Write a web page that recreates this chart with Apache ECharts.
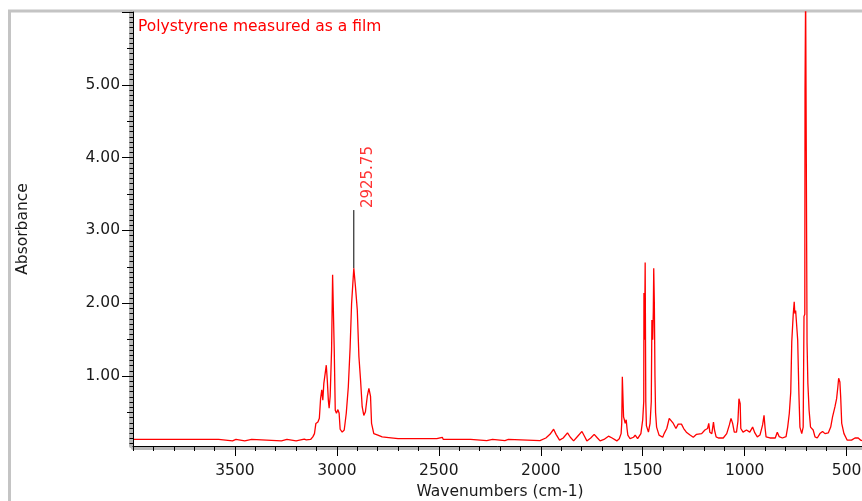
<!DOCTYPE html>
<html>
<head>
<meta charset="utf-8">
<script src="https://cdn.jsdelivr.net/npm/echarts@6/dist/echarts.min.js"></script>
<style>
  html, body { margin: 0; padding: 0; background: #fff; }
  #chart { width: 862px; height: 501px; }
</style>
</head>
<body>
<div id="chart"></div>
<script>
// spectrum (wavenumber cm-1, absorbance)
const wavenumbers = [
  4000, 3580, 3575, 3512, 3508, 3495, 3490, 3452, 3448, 3418, 3414, 3272, 3268, 3245, 3241, 3200,
  3196, 3160, 3150, 3129, 3118, 3110, 3103, 3093, 3086, 3080, 3074, 3069, 3064, 3060, 3052, 3047,
  3042, 3038, 3033, 3026, 3021, 3015, 3013, 3008, 3002, 2995, 2989, 2984, 2974, 2964, 2954, 2944,
  2935, 2928, 2922, 2917, 2909, 2900, 2892, 2884, 2876, 2868, 2860, 2851, 2843, 2835, 2830, 2819,
  2799, 2778, 2746, 2700, 2510, 2505, 2483, 2478, 2344, 2340, 2265, 2262, 2237, 2234, 2176, 2174,
  2159, 2156, 2004, 1998, 1975, 1955, 1937, 1925, 1908, 1890, 1869, 1855, 1839, 1820, 1798, 1785,
  1774, 1755, 1738, 1722, 1709, 1690, 1668, 1650, 1627, 1615, 1606, 1603, 1600, 1596, 1594, 1590,
  1586, 1581, 1577, 1573, 1562, 1545, 1537, 1525, 1509, 1500, 1495, 1494, 1491, 1488, 1485, 1482,
  1472, 1464, 1458, 1455, 1451, 1448, 1446, 1443, 1440, 1437, 1432, 1420, 1402, 1395, 1382, 1370,
  1362, 1350, 1337, 1326, 1310, 1299, 1286, 1268, 1252, 1236, 1211, 1195, 1182, 1176, 1171, 1161,
  1153, 1148, 1140, 1129, 1105, 1088, 1075, 1067, 1059, 1051, 1040, 1033, 1028, 1022, 1019, 1008,
  991, 975, 961, 950, 938, 925, 912, 905, 900, 895, 876, 850, 840, 831, 815, 797,
  789, 781, 774, 769, 762, 757, 754, 750, 745, 740, 734, 729, 720, 713, 709, 705,
  704, 701, 697, 694, 690, 684, 677, 664, 655, 644, 631, 618, 606, 590, 578, 569,
  557, 549, 543, 539, 536, 533, 529, 524, 513, 497, 476, 459, 443, 431, 420, 400
];
const absorbance = [
  0.13, 0.13, 0.11, 0.11, 0.13, 0.13, 0.11, 0.11, 0.13, 0.13, 0.11, 0.11, 0.13, 0.13, 0.11, 0.11,
  0.135, 0.135, 0.125, 0.13, 0.165, 0.21, 0.35, 0.37, 0.42, 0.69, 0.81, 0.67, 0.9, 0.9, 1.15, 0.94,
  0.67, 0.56, 0.72, 1.36, 2.39, 2.39, 1.36, 0.53, 0.49, 0.54, 0.49, 0.27, 0.23, 0.26, 0.49, 0.85,
  1.40, 1.99, 2.26, 2.48, 2.23, 1.91, 1.27, 0.95, 0.58, 0.46, 0.51, 0.72, 0.83, 0.72, 0.35, 0.21,
  0.19, 0.165, 0.155, 0.14, 0.14, 0.16, 0.16, 0.13, 0.13, 0.115, 0.115, 0.13, 0.13, 0.115, 0.115, 0.13,
  0.13, 0.115, 0.115, 0.14, 0.15, 0.2, 0.27, 0.2, 0.12, 0.15, 0.22, 0.16, 0.11, 0.17, 0.24, 0.17,
  0.11, 0.15, 0.20, 0.15, 0.11, 0.13, 0.175, 0.15, 0.11, 0.14, 0.21, 0.35, 0.99, 0.99, 0.44, 0.40,
  0.35, 0.40, 0.28, 0.19, 0.14, 0.16, 0.19, 0.14, 0.21, 0.40, 0.65, 2.14, 1.5, 2.56, 0.65, 0.32,
  0.23, 0.35, 0.65, 1.77, 1.5, 1.9, 2.48, 2.0, 1.0, 0.5, 0.3, 0.19, 0.16, 0.21, 0.28, 0.42,
  0.40, 0.35, 0.28, 0.34, 0.34, 0.28, 0.23, 0.19, 0.16, 0.20, 0.21, 0.26, 0.28, 0.35, 0.23, 0.21,
  0.37, 0.26, 0.165, 0.15, 0.15, 0.21, 0.33, 0.42, 0.35, 0.23, 0.23, 0.38, 0.69, 0.62, 0.28, 0.23,
  0.26, 0.23, 0.30, 0.22, 0.165, 0.19, 0.33, 0.46, 0.29, 0.165, 0.15, 0.15, 0.23, 0.17, 0.15, 0.17,
  0.30, 0.49, 0.78, 1.47, 1.84, 2.02, 1.86, 1.90, 1.88, 1.50, 0.76, 0.30, 0.21, 0.30, 1.82, 1.85,
  4.93, 6.3, 6.3, 1.45, 0.9, 0.53, 0.30, 0.26, 0.165, 0.15, 0.21, 0.24, 0.21, 0.22, 0.30, 0.44,
  0.58, 0.69, 0.85, 0.97, 0.97, 0.92, 0.71, 0.35, 0.21, 0.12, 0.12, 0.15, 0.15, 0.12, 0.11, 0.11
];

// peak marker
const peakWn = 2917;
const peakFrom = 2.48;
const peakTo = 3.28;
const peakLabel = '2925.75';

// axes
const xMin = 400, xMax = 4000;
const xLabels = [3500, 3000, 2500, 2000, 1500, 1000, 500];
const yMin = 0.04, yMax = 6.0;
const yLabels = [1, 2, 3, 4, 5];
const yMajorTicks = [1, 2, 3, 4, 5, 6];
const yHalfTicks = [0.5, 1.5, 2.5, 3.5, 4.5, 5.5];
const yMinorTicks = [];
for (let i = 1; i <= 84; i++) {
  if (i % 7 !== 0) yMinorTicks.push(i / 14);
}

const FONT = 'DejaVu Sans';
const TXT = '#1a1a1a';
const BAND = '#b8b8b8';

const spectrum = wavenumbers.map((w, i) => [w, absorbance[i]]);

const chart = echarts.init(document.getElementById('chart'), null, { renderer: 'canvas' });

function tickAxisY(values, len, extra) {
  return Object.assign({
    type: 'value', min: yMin, max: yMax, position: 'left',
    axisLine: { show: false },
    axisTick: { show: true, length: len, customValues: values, lineStyle: { color: '#000', width: 1 } },
    axisLabel: { show: false },
    splitLine: { show: false },
    z: 5
  }, extra || {});
}

function tickAxisX(extra) {
  return Object.assign({
    type: 'value', min: xMin, max: xMax, inverse: true, position: 'bottom',
    axisLine: { show: false },
    axisLabel: { show: false },
    splitLine: { show: false },
    z: 5
  }, extra);
}

chart.setOption({
  animation: false,
  backgroundColor: '#ffffff',
  title: {
    text: 'Polystyrene measured as a film',
    left: 138,
    top: 19,
    padding: 0,
    textStyle: { color: '#ff0000', fontSize: 15.5, fontWeight: 'normal', fontFamily: FONT }
  },
  graphic: [{
    type: 'rect',
    silent: true,
    z: -10,
    shape: { x: 9.5, y: 11, width: 920, height: 600 },
    style: { fill: 'none', stroke: '#c4c4c4', lineWidth: 3 }
  }],
  grid: { left: 133, right: -5, top: 12, bottom: 55, containLabel: false, outerBoundsMode: 'none' },
  xAxis: [
    tickAxisX({
      name: 'Wavenumbers (cm-1)',
      nameLocation: 'middle',
      nameGap: 38,
      nameTextStyle: { color: TXT, fontSize: 15.5, fontFamily: FONT },
      axisLine: { show: true, onZero: false, lineStyle: { color: '#000', width: 1 } },
      axisTick: { show: true, length: 10, customValues: xLabels, lineStyle: { color: '#000' } },
      axisLabel: {
        show: true, customValues: xLabels, margin: 17, color: TXT, fontSize: 15.5, fontFamily: FONT,
        formatter: (v) => String(v)
      },
      z: 6
    }),
    tickAxisX({
      interval: 100,
      axisTick: { show: true, length: 5, lineStyle: { color: '#000' } }
    }),
    tickAxisX({
      offset: 2,
      axisLine: { show: true, onZero: false, lineStyle: { color: BAND, width: 4 } },
      axisTick: { show: false },
      z: 4
    })
  ],
  yAxis: [
    tickAxisY(yMajorTicks, 11, {
      name: 'Absorbance',
      nameLocation: 'middle',
      nameGap: 102,
      nameTextStyle: { color: TXT, fontSize: 15.5, fontFamily: FONT },
      axisLine: { show: true, onZero: false, lineStyle: { color: '#000', width: 1 } },
      axisLabel: {
        show: true, customValues: yLabels, margin: 13, color: TXT, fontSize: 15.5, fontFamily: FONT,
        formatter: (v) => v.toFixed(2)
      },
      z: 6
    }),
    tickAxisY(yHalfTicks, 6),
    tickAxisY(yMinorTicks, 3.5),
    tickAxisY([], 0, {
      offset: 2,
      axisLine: { show: true, onZero: false, lineStyle: { color: BAND, width: 4 } },
      axisTick: { show: false },
      z: 4
    })
  ],
  series: [
    {
      name: 'Polystyrene',
      type: 'line',
      data: spectrum,
      showSymbol: false,
      symbol: 'none',
      clip: true,
      lineStyle: { color: '#ff0000', width: 1.3 },
      z: 3
    },
    {
      name: 'peak',
      type: 'line',
      data: [[peakWn, peakFrom], [peakWn, peakTo]],
      symbol: 'none',
      lineStyle: { color: '#000', width: 1 },
      z: 2
    },
    {
      name: 'peakLabel',
      type: 'scatter',
      data: [[peakWn, peakTo]],
      symbolSize: 1,
      itemStyle: { color: 'rgba(0,0,0,0)' },
      label: {
        show: true,
        formatter: peakLabel,
        position: 'inside',
        rotate: 90,
        align: 'left',
        verticalAlign: 'middle',
        offset: [2, 14],
        color: '#ff0000',
        fontSize: 15,
        fontFamily: FONT
      },
      z: 4
    }
  ]
});
</script>
</body>
</html>
